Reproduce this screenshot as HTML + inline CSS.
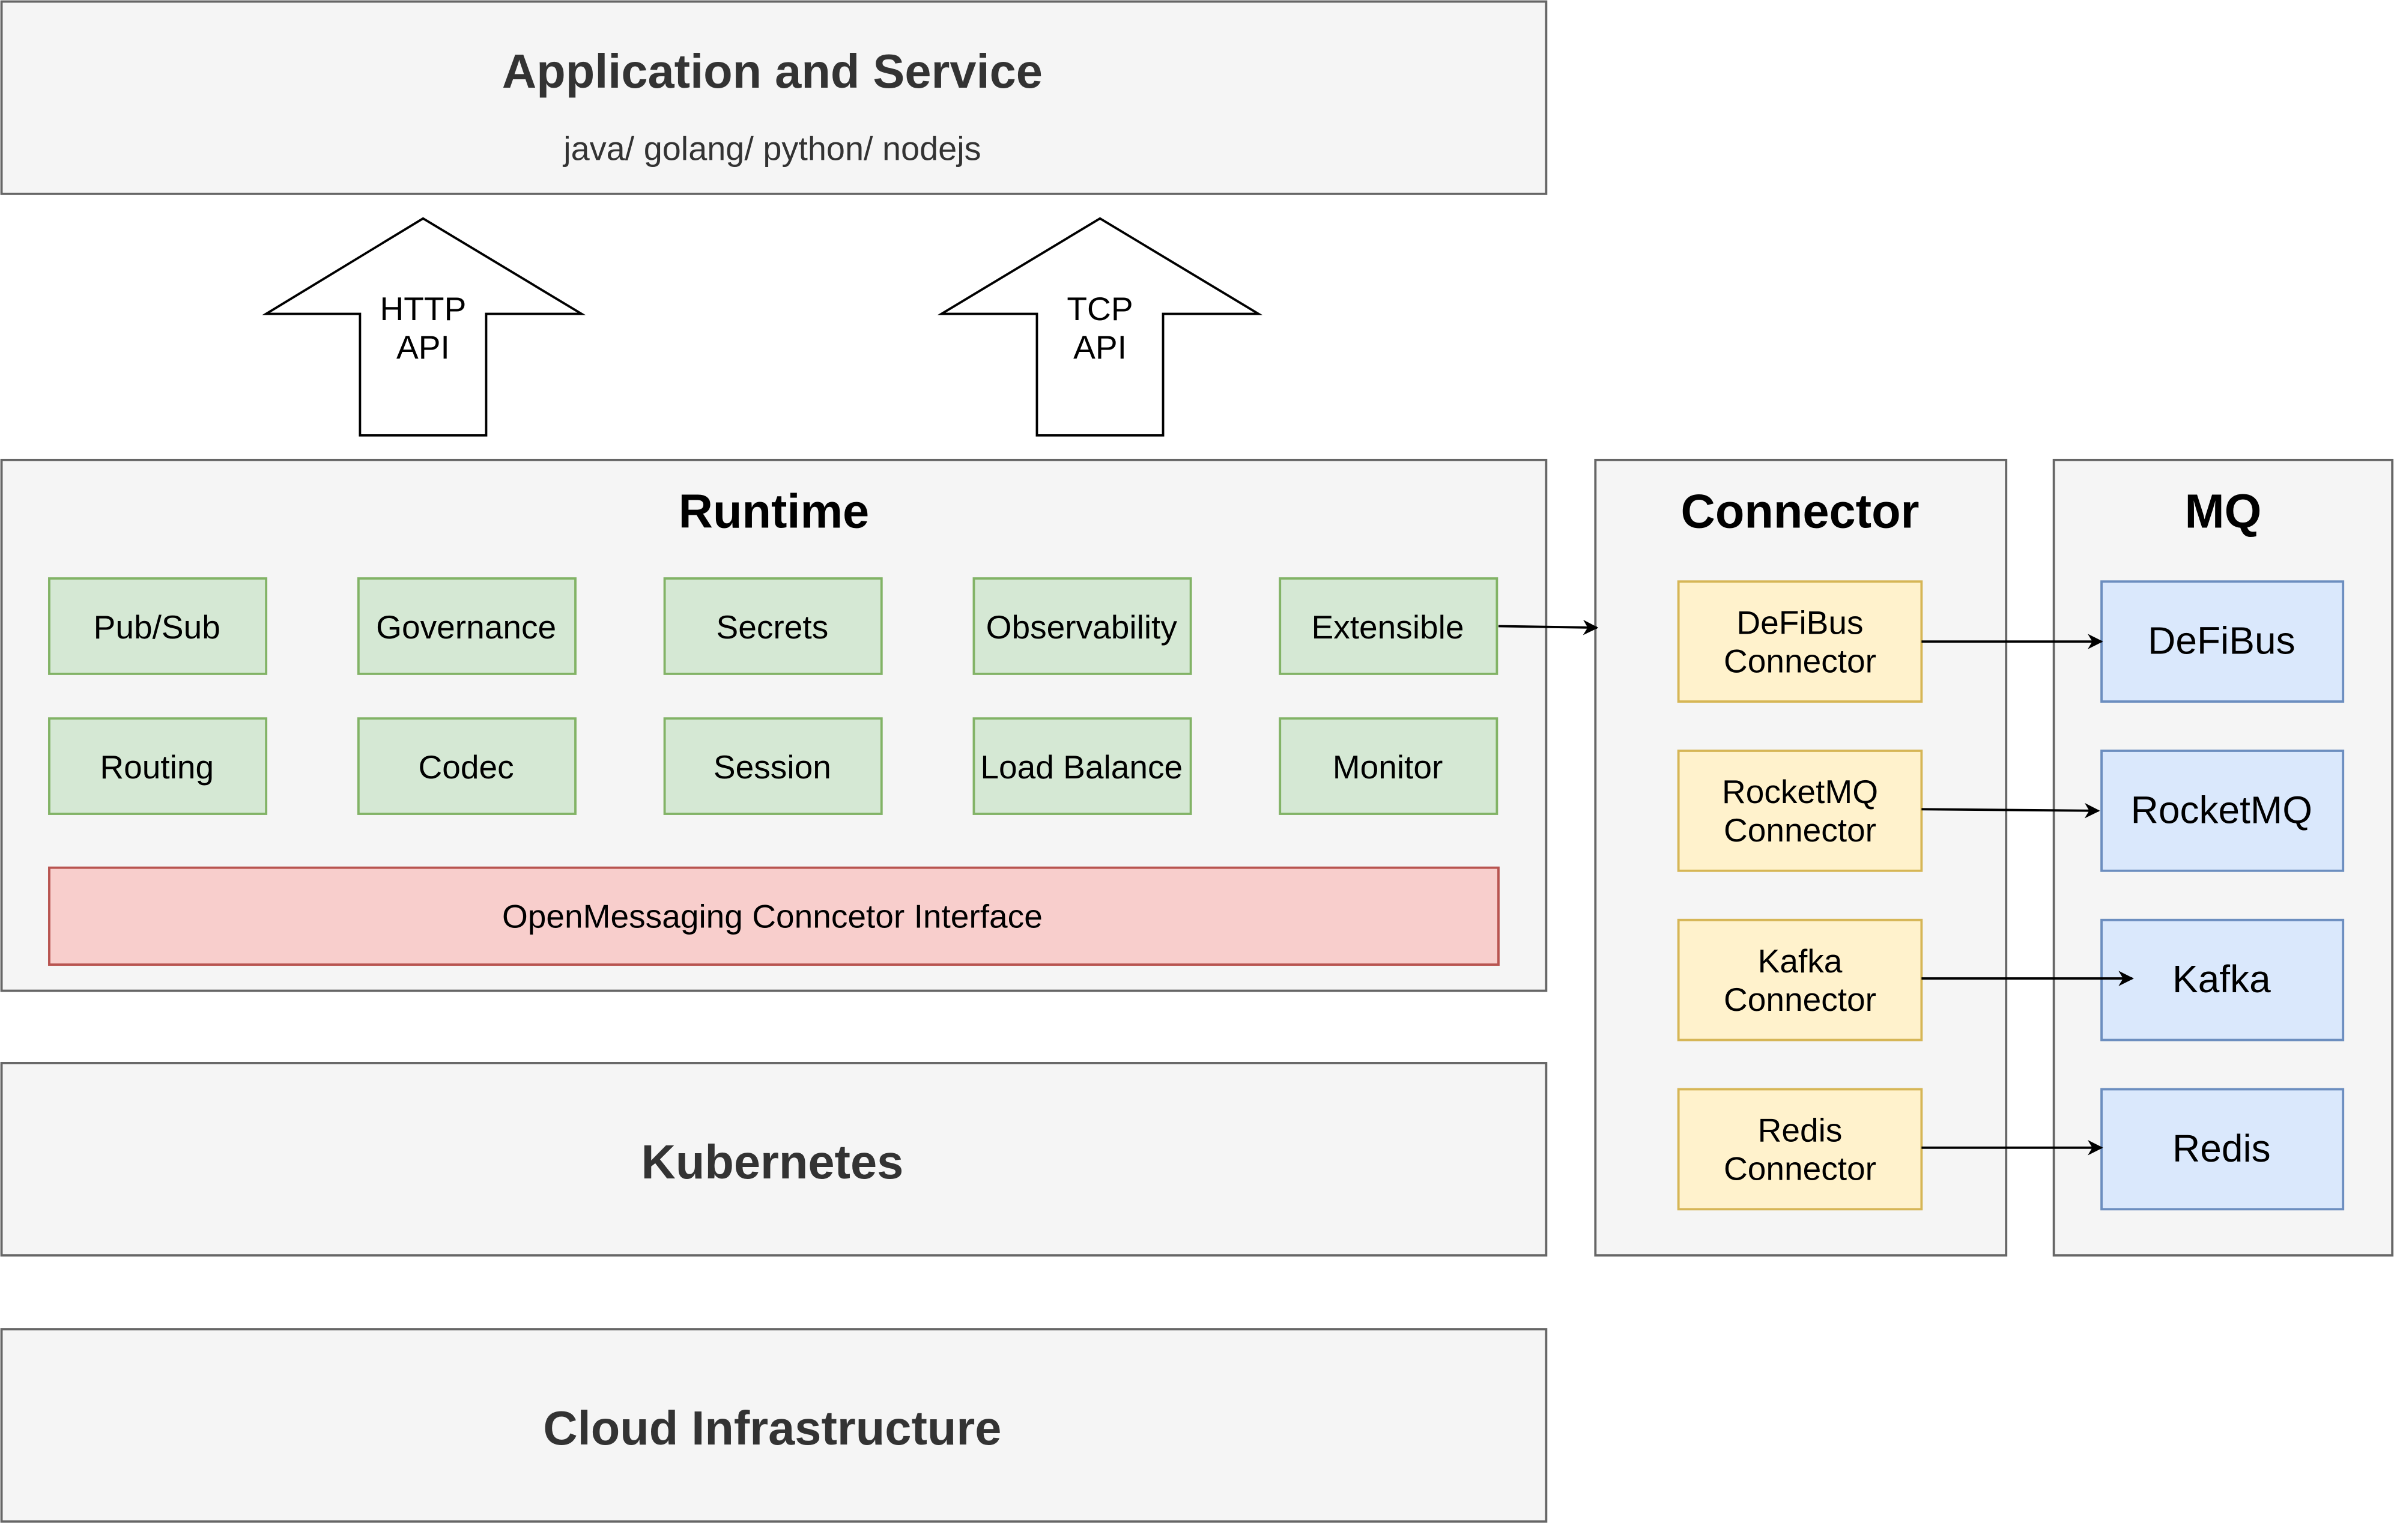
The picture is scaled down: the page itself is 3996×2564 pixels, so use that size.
<!DOCTYPE html>
<html><head><meta charset="utf-8"><style>
html,body{margin:0;padding:0;background:#fff;width:3996px;height:2564px;overflow:hidden}
svg{display:block}
text{font-family:"Liberation Sans",Arial,sans-serif}
</style></head><body>
<svg width="3996" height="2564" viewBox="0 0 1560 1001" preserveAspectRatio="none" xmlns="http://www.w3.org/2000/svg">
<defs><marker id="a" markerWidth="10" markerHeight="10" refX="9" refY="5" orient="auto" markerUnits="userSpaceOnUse"><path d="M0,0 L10,5 L0,10 L3,5 z" fill="#000"/></marker></defs>
<g stroke="#666" stroke-width="1.5" fill="#f5f5f5">
<rect x="1" y="1" width="1004" height="125"/>
<rect x="1" y="299" width="1004" height="345"/>
<rect x="1" y="691" width="1004" height="125"/>
<rect x="1" y="864" width="1004" height="125"/>
<rect x="1037" y="299" width="267" height="517"/>
<rect x="1335" y="299" width="220" height="517"/>
</g>
<g fill="#333" text-anchor="middle" font-weight="bold" font-size="31">
<text x="502" y="57">Application and Service</text>
<text x="502" y="766">Kubernetes</text>
<text x="502" y="939">Cloud Infrastructure</text>
</g>
<g fill="#000" text-anchor="middle" font-weight="bold" font-size="31">
<text x="503" y="343">Runtime</text>
<text x="1170" y="343">Connector</text>
<text x="1445" y="343">MQ</text>
</g>
<text x="502" y="104" fill="#333" text-anchor="middle" font-size="21.8">java/ golang/ python/ nodejs</text>
<g fill="#fff" stroke="#000" stroke-width="1.5">
<polygon points="173,204 275,142 378,204 316,204 316,283 234,283 234,204"/>
<polygon points="612,204 715,142 818,204 756,204 756,283 674,283 674,204"/>
</g>
<g font-size="21.5" text-anchor="middle" fill="#000">
<text x="275" y="208">HTTP</text><text x="275" y="233">API</text>
<text x="715" y="208">TCP</text><text x="715" y="233">API</text>
</g>
<g fill="#d5e8d4" stroke="#82b366" stroke-width="1.5">
<rect x="32" y="376" width="141" height="62"/><rect x="233" y="376" width="141" height="62"/><rect x="432" y="376" width="141" height="62"/><rect x="633" y="376" width="141" height="62"/><rect x="832" y="376" width="141" height="62"/>
<rect x="32" y="467" width="141" height="62"/><rect x="233" y="467" width="141" height="62"/><rect x="432" y="467" width="141" height="62"/><rect x="633" y="467" width="141" height="62"/><rect x="832" y="467" width="141" height="62"/>
</g>
<g font-size="21.5" text-anchor="middle" fill="#000">
<text x="102" y="415">Pub/Sub</text><text x="303" y="415">Governance</text><text x="502" y="415">Secrets</text><text x="703" y="415">Observability</text><text x="902" y="415">Extensible</text>
<text x="102" y="506">Routing</text><text x="303" y="506">Codec</text><text x="502" y="506">Session</text><text x="703" y="506">Load Balance</text><text x="902" y="506">Monitor</text>
</g>
<rect x="32" y="564" width="942" height="63" fill="#f8cecc" stroke="#b85450" stroke-width="1.5"/>
<text x="502" y="603" font-size="21.5" text-anchor="middle">OpenMessaging Conncetor Interface</text>
<g fill="#fff2cc" stroke="#d6b656" stroke-width="1.5">
<rect x="1091" y="378" width="158" height="78"/><rect x="1091" y="488" width="158" height="78"/><rect x="1091" y="598" width="158" height="78"/><rect x="1091" y="708" width="158" height="78"/>
</g>
<g font-size="21.5" text-anchor="middle" fill="#000">
<text x="1170" y="412">DeFiBus</text><text x="1170" y="437">Connector</text>
<text x="1170" y="522">RocketMQ</text><text x="1170" y="547">Connector</text>
<text x="1170" y="632">Kafka</text><text x="1170" y="657">Connector</text>
<text x="1170" y="742">Redis</text><text x="1170" y="767">Connector</text>
</g>
<g fill="#dae8fc" stroke="#6c8ebf" stroke-width="1.5">
<rect x="1366" y="378" width="157" height="78"/><rect x="1366" y="488" width="157" height="78"/><rect x="1366" y="598" width="157" height="78"/><rect x="1366" y="708" width="157" height="78"/>
</g>
<g font-size="25" text-anchor="middle" fill="#000">
<text x="1444" y="425">DeFiBus</text><text x="1444" y="535">RocketMQ</text><text x="1444" y="645">Kafka</text><text x="1444" y="755">Redis</text>
</g>
<g stroke="#000" stroke-width="1.5" marker-end="url(#a)">
<line x1="974" y1="407" x2="1038" y2="408"/>
<line x1="1249" y1="417" x2="1366" y2="417"/>
<line x1="1249" y1="526" x2="1364" y2="527"/>
<line x1="1249" y1="636" x2="1386" y2="636"/>
<line x1="1249" y1="746" x2="1366" y2="746"/>
</g>
</svg>
</body></html>
